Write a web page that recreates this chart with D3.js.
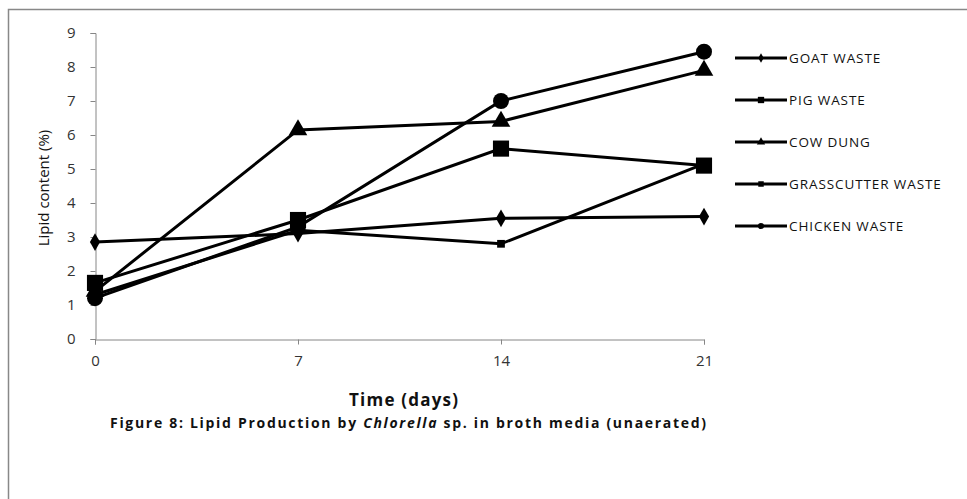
<!DOCTYPE html>
<html>
<head>
<meta charset="utf-8">
<script src="https://cdn.jsdelivr.net/npm/d3@7"></script>
<style>
  body { margin: 0; background: #fff; }
  text { font-family: "Open Sans", Lato, sans-serif; }
</style>
</head>
<body>
<script>
const days = [0, 7, 14, 21];
const seriesNames = ['GOAT WASTE', 'PIG WASTE', 'COW DUNG', 'GRASSCUTTER WASTE', 'CHICKEN WASTE'];
const goatWaste = [2.85, 3.1, 3.55, 3.6];
const pigWaste = [1.65, 3.5, 5.6, 5.1];
const cowDung = [1.4, 6.15, 6.4, 7.9];
const grasscutterWaste = [1.3, 3.2, 2.8, 5.15];
const chickenWaste = [1.2, 3.3, 7.0, 8.45];
const yTicks = [0, 1, 2, 3, 4, 5, 6, 7, 8, 9];

const series = [
  { name: seriesNames[0], values: goatWaste, shape: 'diamond' },
  { name: seriesNames[1], values: pigWaste, shape: 'bigsquare' },
  { name: seriesNames[2], values: cowDung, shape: 'triangle' },
  { name: seriesNames[3], values: grasscutterWaste, shape: 'smallsquare' },
  { name: seriesNames[4], values: chickenWaste, shape: 'circle' }
];

const svg = d3.select('body').append('svg')
  .attr('width', 967)
  .attr('height', 499);

// outer frame (open at right and bottom)
svg.append('path')
  .attr('d', 'M8.5,499 V9.5 H967')
  .attr('fill', 'none')
  .attr('stroke', '#888')
  .attr('stroke-width', 1.5);

const x = d3.scaleLinear().domain([0, 21]).range([95, 704]);
const y = d3.scaleLinear().domain([0, 9]).range([339, 33]);

const g = svg.append('g');

const yAxis = g.append('g')
  .attr('transform', 'translate(95.5,0)')
  .call(d3.axisLeft(y).tickValues(yTicks).tickSize(5).tickPadding(15));
const xAxis = g.append('g')
  .attr('transform', 'translate(0,339.5)')
  .call(d3.axisBottom(x).tickValues(days).tickSize(5).tickPadding(11));

[yAxis, xAxis].forEach(a => {
  a.select('.domain').attr('stroke', '#868686');
  a.selectAll('.tick line').attr('stroke', '#868686');
  a.selectAll('.tick text')
    .attr('font-size', '15px')
    .attr('fill', '#333')
    .style('font-family', '"Open Sans", Lato, sans-serif');
});

const symbolFor = {
  diamond: d3.symbol().type(d3.symbolDiamond).size(90),
  bigsquare: d3.symbol().type(d3.symbolSquare).size(260),
  triangle: d3.symbol().type(d3.symbolTriangle).size(150),
  smallsquare: d3.symbol().type(d3.symbolSquare).size(60),
  circle: d3.symbol().type(d3.symbolCircle).size(200)
};

const line = d3.line()
  .x((d, i) => x(days[i]))
  .y(d => y(d));

series.forEach(s => {
  g.append('path')
    .datum(s.values)
    .attr('d', line)
    .attr('fill', 'none')
    .attr('stroke', '#000')
    .attr('stroke-width', 3);
});

series.forEach(s => {
  g.selectAll(null)
    .data(s.values)
    .enter()
    .append('path')
    .attr('d', symbolFor[s.shape])
    .attr('transform', (d, i) => `translate(${x(days[i])},${y(d)})`)
    .attr('fill', '#000');
});

// legend
const legendSymbol = {
  diamond: d3.symbol().type(d3.symbolDiamond).size(25),
  bigsquare: d3.symbol().type(d3.symbolSquare).size(40),
  triangle: d3.symbol().type(d3.symbolTriangle).size(30),
  smallsquare: d3.symbol().type(d3.symbolSquare).size(30),
  circle: d3.symbol().type(d3.symbolCircle).size(30)
};

const legend = svg.append('g')
  .selectAll('g')
  .data(series)
  .enter()
  .append('g')
  .attr('transform', (d, i) => `translate(735, ${58 + i * 42})`);

legend.append('line')
  .attr('x1', 0).attr('x2', 52)
  .attr('y1', 0).attr('y2', 0)
  .attr('stroke', '#000')
  .attr('stroke-width', 3);

legend.append('path')
  .attr('d', d => legendSymbol[d.shape]())
  .attr('transform', 'translate(26,0)')
  .attr('fill', '#000');

legend.append('text')
  .attr('x', 54)
  .attr('y', 5)
  .attr('font-size', '13.5px')
  .attr('letter-spacing', '0.9px')
  .attr('fill', '#111')
  .text(d => d.name);

// y axis title
svg.append('text')
  .attr('transform', 'translate(49,188) rotate(-90)')
  .attr('text-anchor', 'middle')
  .attr('font-size', '15px')
  .attr('fill', '#111')
  .text('Lipid content (%)');

// x axis title
svg.append('text')
  .attr('x', 349)
  .attr('y', 406)
  .attr('textLength', 109)
  .attr('lengthAdjust', 'spacing')
  .attr('font-size', '17px')
  .attr('font-weight', 'bold')
  .attr('fill', '#111')
  .text('Time (days)');

// caption
const cap = svg.append('text')
  .attr('x', 110)
  .attr('y', 428)
  .attr('font-size', '14px')
  .attr('font-weight', 'bold')
  .attr('letter-spacing', '1.7px')
  .attr('fill', '#111');
cap.append('tspan').text('Figure 8: Lipid Production by  ');
cap.append('tspan').attr('font-style', 'italic').text('Chlorella');
cap.append('tspan').text(' sp. in broth media (unaerated)');
</script>
</body>
</html>
